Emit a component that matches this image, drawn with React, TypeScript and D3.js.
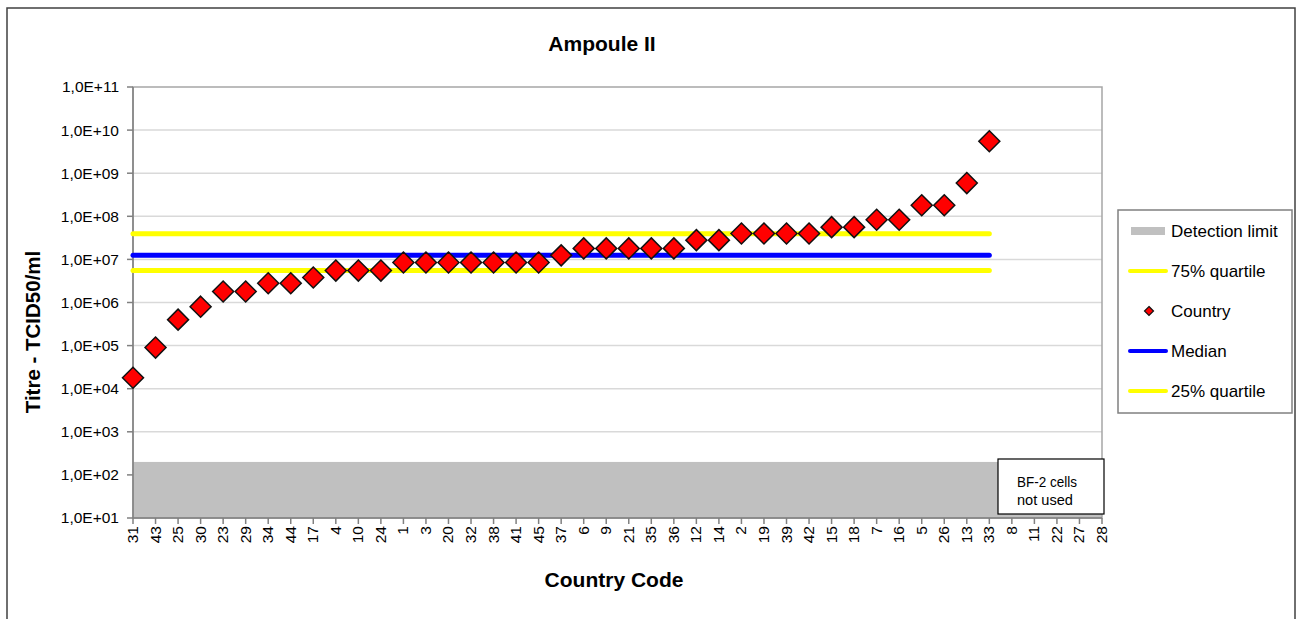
import React from "react";
import * as d3 from "d3";

const categories = ["31","43","25","30","23","29","34","44","17","4","10","24","1","3","20","32","38","41","45","37","6","9","21","35","36","12","14","2","19","39","42","15","18","7","16","5","26","13","33","8","11","22","27","28"];
const countryValues: (number | null)[] = [1.8e4,9e4,4e5,8e5,1.8e6,1.8e6,2.8e6,2.8e6,3.8e6,5.5e6,5.5e6,5.5e6,8.5e6,8.5e6,8.5e6,8.5e6,8.5e6,8.5e6,8.5e6,1.24e7,1.8e7,1.8e7,1.8e7,1.8e7,1.8e7,2.8e7,2.8e7,4e7,4e7,4e7,4e7,5.6e7,5.6e7,8.3e7,8.3e7,1.8e8,1.8e8,5.9e8,5.5e9,null,null,null,null,null];
const quartile75 = 3.95e7;
const median = 1.24e7;
const quartile25 = 5.56e6;
const detectionLimit = 2e2;
const yTicks = [1e1,1e2,1e3,1e4,1e5,1e6,1e7,1e8,1e9,1e10,1e11];
const legendItems = ["Detection limit","75% quartile","Country","Median","25% quartile"];
const lastMeasured = "33";

const W = 1298, H = 619;
const L = 133, R = 1102, T = 87, B = 518;

function fmt(v: number) {
  const e = Math.round(Math.log10(v));
  return "1,0E+" + (e < 10 ? "0" + e : "" + e);
}

export default function App() {
  const x = d3.scalePoint<string>().domain(categories).range([L, R]);
  const y = d3.scaleLog().domain([1e1, 1e11]).range([B, T]);
  const font = "Arial, 'Liberation Sans', sans-serif";
  const diamond = (cx: number, cy: number, r: number) =>
    `M${cx},${cy - r}L${cx + r},${cy}L${cx},${cy + r}L${cx - r},${cy}Z`;
  const x0 = x(categories[0])!;
  const x1 = x(lastMeasured)!;
  const legendY = [231, 271, 311, 351, 391];
  return (
    <svg width={W} height={H} style={{ position: "absolute", left: 0, top: 0, background: "#fff" }} fontFamily={font}>
      <rect x={7} y={8} width={1288} height={H} fill="#fff" stroke="#404040" strokeWidth={1.5} />
      <text x={602} y={51} textAnchor="middle" fontSize={21} fontWeight="bold">Ampoule II</text>
      {yTicks.slice(1, -1).map((t) => (
        <line key={t} x1={L} x2={R} y1={y(t)} y2={y(t)} stroke="#d9d9d9" strokeWidth={1.5} />
      ))}
      <rect x={L} y={y(detectionLimit)} width={R - L} height={B - y(detectionLimit)} fill="#c0c0c0" />
      <rect x={L} y={T} width={R - L} height={B - T} fill="none" stroke="#a6a6a6" strokeWidth={1.5} />
      <line x1={L} x2={L} y1={T} y2={B} stroke="#808080" strokeWidth={1.5} />
      <line x1={L} x2={R} y1={B} y2={B} stroke="#808080" strokeWidth={1.5} />
      {yTicks.map((t) => (
        <g key={t}>
          <line x1={L - 6} x2={L} y1={y(t)} y2={y(t)} stroke="#808080" strokeWidth={1.5} />
          <text x={119} y={y(t)} dy="0.35em" textAnchor="end" fontSize={15.5}>{fmt(t)}</text>
        </g>
      ))}
      {categories.map((c) => (
        <g key={c}>
          <line x1={x(c)} x2={x(c)} y1={B} y2={B + 6} stroke="#808080" strokeWidth={1.5} />
          <text transform={`translate(${x(c)! + 5},${B + 8}) rotate(-90)`} textAnchor="end" fontSize={15.5}>{c}</text>
        </g>
      ))}
      <line x1={x0} x2={x1} y1={y(quartile75)} y2={y(quartile75)} stroke="#ffff00" strokeWidth={5} strokeLinecap="round" />
      <line x1={x0} x2={x1} y1={y(quartile25)} y2={y(quartile25)} stroke="#ffff00" strokeWidth={5} strokeLinecap="round" />
      <line x1={x0} x2={x1} y1={y(median)} y2={y(median)} stroke="#0000ff" strokeWidth={5} strokeLinecap="round" />
      {categories.map((c, i) => {
        const v = countryValues[i];
        if (v == null) return null;
        return <path key={c} d={diamond(x(c)!, y(v), 10.5)} fill="#ff0000" stroke="#111" strokeWidth={1.5} strokeLinejoin="miter" />;
      })}
      <rect x={998} y={459} width={106} height={55} fill="#fff" stroke="#000" strokeWidth={1.2} />
      <text x={1017} y={487} fontSize={14} textLength={60} lengthAdjust="spacingAndGlyphs">BF-2 cells</text>
      <text x={1017} y={505} fontSize={14} textLength={56} lengthAdjust="spacingAndGlyphs">not used</text>
      <text transform={`translate(40,332) rotate(-90)`} textAnchor="middle" fontSize={20.5} fontWeight="bold">Titre - TCID50/ml</text>
      <text x={614} y={587} textAnchor="middle" fontSize={21} fontWeight="bold">Country Code</text>
      <rect x={1118} y={210} width={174} height={203} fill="#fff" stroke="#808080" strokeWidth={1.5} />
      <rect x={1131} y={legendY[0] - 4} width={34} height={8} fill="#c0c0c0" />
      <line x1={1130} x2={1166} y1={legendY[1]} y2={legendY[1]} stroke="#ffff00" strokeWidth={4} strokeLinecap="round" />
      <path d={diamond(1149, legendY[2], 4.5)} fill="#ff0000" stroke="#111" strokeWidth={1.2} />
      <line x1={1130} x2={1166} y1={legendY[3]} y2={legendY[3]} stroke="#0000ff" strokeWidth={4} strokeLinecap="round" />
      <line x1={1130} x2={1166} y1={legendY[4]} y2={legendY[4]} stroke="#ffff00" strokeWidth={4} strokeLinecap="round" />
      {legendItems.map((t, i) => (
        <text key={t} x={1171} y={legendY[i]} dy="0.35em" fontSize={17}>{t}</text>
      ))}
    </svg>
  );
}
